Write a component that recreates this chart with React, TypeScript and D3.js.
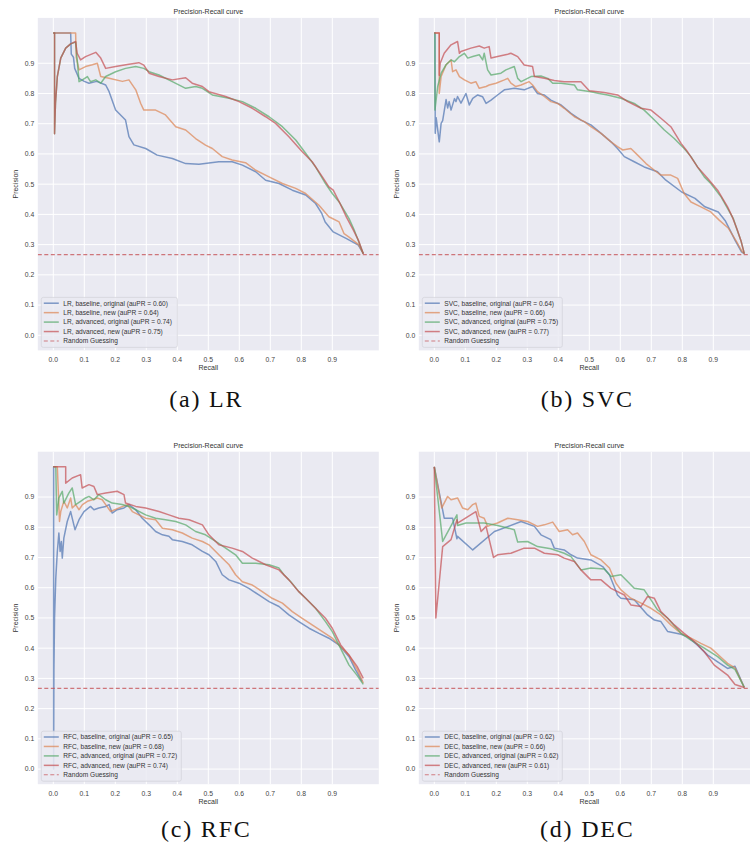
import React from 'react';
import * as d3 from 'd3';

type Pt = [number, number];

// ---- data (recall, precision) ----
const tickValues = [0, 0.1, 0.2, 0.3, 0.4, 0.5, 0.6, 0.7, 0.8, 0.9];
const chanceLevel = 0.267;
const variantNames = ['baseline, original', 'baseline, new', 'advanced, original', 'advanced, new'];
const seriesColours = ['#4C72B0', '#DD8452', '#55A868', '#C44E52'];

const lrAuPR = [0.6, 0.64, 0.74, 0.75];
const svcAuPR = [0.64, 0.66, 0.75, 0.77];
const rfcAuPR = [0.65, 0.68, 0.72, 0.74];
const decAuPR = [0.62, 0.66, 0.62, 0.61];

const lrBaseOrig: Pt[] = [[0, 1], [0.056, 1], [0.058, 0.93], [0.065, 0.92], [0.069, 0.883], [0.083, 0.85], [0.1, 0.84], [0.115, 0.834], [0.14, 0.84], [0.169, 0.828], [0.18, 0.806], [0.201, 0.745], [0.233, 0.712], [0.244, 0.657], [0.26, 0.63], [0.298, 0.618], [0.335, 0.596], [0.384, 0.585], [0.427, 0.568], [0.47, 0.566], [0.534, 0.574], [0.577, 0.574], [0.61, 0.563], [0.653, 0.541], [0.685, 0.513], [0.728, 0.502], [0.771, 0.48], [0.814, 0.464], [0.846, 0.436], [0.866, 0.403], [0.877, 0.375], [0.903, 0.342], [0.946, 0.32], [0.984, 0.298], [1, 0.27]];
const lrBaseNew: Pt[] = [[0, 1], [0.072, 1], [0.074, 0.92], [0.083, 0.878], [0.104, 0.889], [0.126, 0.895], [0.142, 0.9], [0.153, 0.856], [0.18, 0.85], [0.223, 0.84], [0.244, 0.845], [0.266, 0.812], [0.282, 0.767], [0.292, 0.745], [0.33, 0.745], [0.362, 0.729], [0.395, 0.69], [0.427, 0.679], [0.459, 0.651], [0.491, 0.629], [0.513, 0.618], [0.545, 0.591], [0.577, 0.58], [0.62, 0.571], [0.653, 0.546], [0.696, 0.524], [0.739, 0.502], [0.782, 0.486], [0.814, 0.469], [0.857, 0.43], [0.889, 0.392], [0.922, 0.375], [0.938, 0.336], [0.954, 0.325], [0.985, 0.3], [1, 0.27]];
const lrAdvOrig: Pt[] = [[0, 1], [0.004, 1], [0.004, 0.667], [0.007, 0.767], [0.013, 0.856], [0.024, 0.917], [0.04, 0.95], [0.056, 0.964], [0.072, 0.97], [0.078, 0.9], [0.083, 0.839], [0.094, 0.845], [0.11, 0.856], [0.12, 0.839], [0.137, 0.845], [0.153, 0.834], [0.169, 0.856], [0.201, 0.872], [0.233, 0.883], [0.266, 0.889], [0.292, 0.883], [0.309, 0.872], [0.341, 0.861], [0.384, 0.839], [0.427, 0.817], [0.459, 0.823], [0.481, 0.817], [0.513, 0.795], [0.567, 0.784], [0.61, 0.773], [0.653, 0.751], [0.696, 0.723], [0.739, 0.69], [0.782, 0.646], [0.814, 0.602], [0.846, 0.557], [0.878, 0.502], [0.9, 0.469], [0.922, 0.441], [0.954, 0.386], [0.97, 0.35], [0.985, 0.31], [1, 0.27]];
const lrAdvNew: Pt[] = [[0, 1], [0.004, 1], [0.004, 0.667], [0.007, 0.767], [0.013, 0.856], [0.024, 0.917], [0.04, 0.95], [0.056, 0.964], [0.072, 0.972], [0.077, 0.933], [0.088, 0.911], [0.104, 0.922], [0.137, 0.936], [0.153, 0.917], [0.169, 0.883], [0.201, 0.889], [0.244, 0.897], [0.276, 0.902], [0.292, 0.894], [0.309, 0.867], [0.341, 0.856], [0.384, 0.845], [0.427, 0.852], [0.448, 0.834], [0.481, 0.823], [0.502, 0.806], [0.556, 0.79], [0.599, 0.773], [0.642, 0.751], [0.685, 0.723], [0.717, 0.701], [0.76, 0.657], [0.803, 0.607], [0.835, 0.574], [0.868, 0.524], [0.889, 0.491], [0.903, 0.48], [0.925, 0.436], [0.946, 0.39], [0.968, 0.348], [0.984, 0.315], [1, 0.27]];

const svcBaseOrig: Pt[] = [[0, 1], [0.002, 1], [0.003, 0.668], [0.006, 0.72], [0.016, 0.64], [0.022, 0.701], [0.027, 0.71], [0.038, 0.78], [0.043, 0.752], [0.048, 0.773], [0.054, 0.745], [0.065, 0.783], [0.07, 0.773], [0.075, 0.79], [0.086, 0.768], [0.102, 0.8], [0.113, 0.762], [0.124, 0.784], [0.14, 0.795], [0.156, 0.789], [0.167, 0.767], [0.183, 0.778], [0.204, 0.795], [0.226, 0.812], [0.258, 0.817], [0.29, 0.812], [0.317, 0.823], [0.333, 0.8], [0.355, 0.795], [0.376, 0.778], [0.409, 0.762], [0.441, 0.734], [0.473, 0.712], [0.505, 0.696], [0.538, 0.668], [0.57, 0.64], [0.591, 0.618], [0.613, 0.591], [0.645, 0.574], [0.677, 0.557], [0.72, 0.541], [0.747, 0.513], [0.798, 0.474], [0.841, 0.453], [0.873, 0.425], [0.916, 0.408], [0.938, 0.38], [0.954, 0.348], [0.97, 0.315], [0.991, 0.276], [1, 0.27]];
const svcBaseNew: Pt[] = [[0, 1], [0.016, 1], [0.016, 0.8], [0.022, 0.856], [0.038, 0.895], [0.054, 0.911], [0.059, 0.872], [0.07, 0.878], [0.081, 0.856], [0.097, 0.845], [0.118, 0.834], [0.134, 0.839], [0.145, 0.817], [0.167, 0.823], [0.177, 0.828], [0.199, 0.834], [0.226, 0.845], [0.237, 0.85], [0.247, 0.834], [0.263, 0.823], [0.28, 0.828], [0.306, 0.839], [0.317, 0.828], [0.333, 0.806], [0.355, 0.79], [0.376, 0.773], [0.398, 0.767], [0.419, 0.751], [0.452, 0.723], [0.484, 0.707], [0.505, 0.69], [0.538, 0.668], [0.57, 0.64], [0.591, 0.624], [0.608, 0.613], [0.634, 0.618], [0.656, 0.596], [0.683, 0.568], [0.71, 0.546], [0.731, 0.53], [0.763, 0.53], [0.785, 0.519], [0.806, 0.469], [0.828, 0.441], [0.86, 0.425], [0.892, 0.408], [0.919, 0.381], [0.948, 0.355], [0.975, 0.31], [0.991, 0.28], [1, 0.27]];
const svcAdvOrig: Pt[] = [[0, 1], [0.002, 1], [0.002, 0.745], [0.011, 0.823], [0.022, 0.867], [0.038, 0.895], [0.054, 0.911], [0.065, 0.905], [0.081, 0.922], [0.097, 0.933], [0.108, 0.917], [0.124, 0.922], [0.145, 0.928], [0.156, 0.911], [0.161, 0.933], [0.172, 0.878], [0.183, 0.861], [0.215, 0.867], [0.231, 0.878], [0.258, 0.889], [0.269, 0.85], [0.28, 0.839], [0.312, 0.856], [0.344, 0.858], [0.366, 0.85], [0.382, 0.834], [0.409, 0.834], [0.452, 0.828], [0.462, 0.812], [0.505, 0.806], [0.532, 0.8], [0.559, 0.795], [0.602, 0.784], [0.645, 0.767], [0.677, 0.745], [0.71, 0.712], [0.742, 0.679], [0.774, 0.651], [0.806, 0.618], [0.828, 0.591], [0.849, 0.557], [0.871, 0.524], [0.892, 0.502], [0.925, 0.458], [0.946, 0.42], [0.965, 0.385], [0.978, 0.345], [0.99, 0.31], [1, 0.27]];
const svcAdvNew: Pt[] = [[0, 1], [0.016, 1], [0.016, 0.86], [0.019, 0.9], [0.032, 0.933], [0.054, 0.961], [0.075, 0.972], [0.081, 0.933], [0.086, 0.939], [0.118, 0.95], [0.145, 0.957], [0.161, 0.95], [0.177, 0.955], [0.183, 0.917], [0.204, 0.922], [0.237, 0.93], [0.247, 0.933], [0.269, 0.922], [0.29, 0.894], [0.317, 0.889], [0.323, 0.856], [0.355, 0.85], [0.387, 0.843], [0.419, 0.839], [0.473, 0.839], [0.5, 0.809], [0.548, 0.803], [0.591, 0.795], [0.624, 0.773], [0.667, 0.751], [0.699, 0.745], [0.731, 0.718], [0.763, 0.69], [0.796, 0.635], [0.817, 0.607], [0.849, 0.557], [0.882, 0.519], [0.914, 0.48], [0.946, 0.425], [0.962, 0.39], [0.977, 0.35], [0.99, 0.31], [1, 0.27]];

const rfcBaseOrig: Pt[] = [[0, 1], [0.001, 1], [0.001, 0.0], [0.002, 0.33], [0.004, 0.5], [0.008, 0.631], [0.013, 0.72], [0.018, 0.781], [0.022, 0.72], [0.026, 0.753], [0.029, 0.698], [0.034, 0.764], [0.045, 0.819], [0.056, 0.852], [0.061, 0.83], [0.07, 0.792], [0.083, 0.825], [0.099, 0.852], [0.12, 0.869], [0.131, 0.858], [0.147, 0.864], [0.169, 0.869], [0.18, 0.875], [0.19, 0.847], [0.206, 0.858], [0.228, 0.864], [0.244, 0.875], [0.266, 0.858], [0.287, 0.83], [0.309, 0.808], [0.33, 0.786], [0.352, 0.775], [0.373, 0.77], [0.384, 0.759], [0.416, 0.753], [0.448, 0.742], [0.481, 0.72], [0.502, 0.709], [0.524, 0.687], [0.545, 0.643], [0.567, 0.626], [0.599, 0.615], [0.631, 0.598], [0.663, 0.576], [0.696, 0.554], [0.728, 0.538], [0.76, 0.51], [0.792, 0.488], [0.825, 0.466], [0.857, 0.449], [0.889, 0.433], [0.921, 0.411], [0.954, 0.372], [0.975, 0.328], [0.996, 0.29]];
const rfcBaseNew: Pt[] = [[0, 1], [0.013, 1], [0.02, 0.819], [0.024, 0.852], [0.034, 0.886], [0.045, 0.864], [0.056, 0.897], [0.061, 0.864], [0.072, 0.875], [0.083, 0.858], [0.094, 0.875], [0.11, 0.886], [0.126, 0.891], [0.142, 0.897], [0.158, 0.891], [0.169, 0.875], [0.185, 0.852], [0.212, 0.864], [0.239, 0.875], [0.255, 0.852], [0.276, 0.841], [0.298, 0.83], [0.33, 0.825], [0.352, 0.797], [0.384, 0.792], [0.416, 0.781], [0.448, 0.764], [0.481, 0.753], [0.502, 0.742], [0.534, 0.709], [0.567, 0.676], [0.588, 0.643], [0.61, 0.62], [0.642, 0.609], [0.674, 0.587], [0.706, 0.565], [0.739, 0.549], [0.771, 0.521], [0.803, 0.499], [0.835, 0.477], [0.868, 0.455], [0.9, 0.433], [0.932, 0.4], [0.954, 0.377], [0.98, 0.33], [1, 0.285]];
const rfcAdvOrig: Pt[] = [[0, 1], [0.008, 1], [0.011, 0.841], [0.018, 0.897], [0.029, 0.919], [0.034, 0.88], [0.05, 0.913], [0.061, 0.93], [0.072, 0.875], [0.088, 0.886], [0.104, 0.897], [0.115, 0.902], [0.131, 0.891], [0.147, 0.908], [0.169, 0.891], [0.19, 0.88], [0.222, 0.875], [0.244, 0.869], [0.266, 0.858], [0.298, 0.841], [0.33, 0.83], [0.362, 0.825], [0.395, 0.819], [0.427, 0.808], [0.459, 0.786], [0.491, 0.775], [0.524, 0.753], [0.556, 0.731], [0.588, 0.709], [0.61, 0.681], [0.653, 0.681], [0.696, 0.676], [0.728, 0.665], [0.744, 0.643], [0.766, 0.62], [0.792, 0.587], [0.814, 0.565], [0.846, 0.532], [0.878, 0.488], [0.9, 0.455], [0.921, 0.411], [0.954, 0.344], [0.98, 0.31], [1, 0.28]];
const rfcAdvNew: Pt[] = [[0, 1], [0.04, 1], [0.04, 0.946], [0.061, 0.963], [0.088, 0.974], [0.093, 0.93], [0.115, 0.941], [0.131, 0.935], [0.142, 0.908], [0.169, 0.913], [0.206, 0.919], [0.228, 0.908], [0.233, 0.88], [0.266, 0.869], [0.298, 0.864], [0.341, 0.852], [0.373, 0.841], [0.405, 0.83], [0.438, 0.825], [0.481, 0.808], [0.502, 0.775], [0.534, 0.742], [0.577, 0.731], [0.61, 0.72], [0.642, 0.698], [0.685, 0.676], [0.728, 0.659], [0.76, 0.626], [0.792, 0.587], [0.814, 0.565], [0.846, 0.532], [0.878, 0.499], [0.9, 0.466], [0.927, 0.411], [0.954, 0.377], [0.98, 0.34], [1, 0.3]];

const decBaseOrig: Pt[] = [[0, 1], [0.032, 0.83], [0.059, 0.83], [0.073, 0.762], [0.075, 0.77], [0.124, 0.725], [0.194, 0.786], [0.28, 0.819], [0.323, 0.803], [0.344, 0.775], [0.376, 0.759], [0.387, 0.731], [0.419, 0.725], [0.441, 0.709], [0.462, 0.698], [0.505, 0.692], [0.543, 0.67], [0.565, 0.643], [0.591, 0.576], [0.602, 0.565], [0.645, 0.56], [0.688, 0.51], [0.71, 0.493], [0.731, 0.488], [0.753, 0.455], [0.796, 0.446], [0.817, 0.438], [0.849, 0.41], [0.882, 0.377], [0.914, 0.355], [0.946, 0.333], [0.97, 0.34], [1, 0.27]];
const decBaseNew: Pt[] = [[0, 1], [0.024, 0.864], [0.043, 0.902], [0.054, 0.891], [0.075, 0.897], [0.091, 0.864], [0.108, 0.858], [0.124, 0.875], [0.134, 0.88], [0.145, 0.836], [0.161, 0.83], [0.172, 0.803], [0.183, 0.808], [0.204, 0.814], [0.237, 0.83], [0.269, 0.825], [0.301, 0.819], [0.333, 0.803], [0.355, 0.808], [0.382, 0.817], [0.403, 0.786], [0.43, 0.792], [0.446, 0.775], [0.462, 0.781], [0.484, 0.753], [0.505, 0.709], [0.538, 0.692], [0.565, 0.665], [0.586, 0.615], [0.602, 0.593], [0.634, 0.565], [0.667, 0.549], [0.699, 0.532], [0.731, 0.51], [0.763, 0.477], [0.796, 0.449], [0.828, 0.433], [0.86, 0.416], [0.892, 0.4], [0.946, 0.35], [0.97, 0.335], [1, 0.27]];
const decAdvOrig: Pt[] = [[0, 1], [0.027, 0.753], [0.073, 0.841], [0.075, 0.806], [0.102, 0.814], [0.161, 0.814], [0.204, 0.806], [0.258, 0.792], [0.269, 0.751], [0.301, 0.753], [0.333, 0.736], [0.376, 0.729], [0.419, 0.714], [0.441, 0.703], [0.473, 0.659], [0.505, 0.665], [0.548, 0.662], [0.57, 0.637], [0.602, 0.643], [0.645, 0.598], [0.677, 0.593], [0.699, 0.56], [0.72, 0.527], [0.753, 0.499], [0.796, 0.449], [0.828, 0.427], [0.871, 0.4], [0.914, 0.372], [0.946, 0.344], [0.97, 0.33], [1, 0.27]];
const decAdvNew: Pt[] = [[0, 1], [0.005, 0.5], [0.027, 0.736], [0.054, 0.759], [0.073, 0.825], [0.075, 0.814], [0.134, 0.852], [0.151, 0.786], [0.167, 0.803], [0.191, 0.7], [0.204, 0.709], [0.247, 0.714], [0.29, 0.731], [0.323, 0.731], [0.355, 0.714], [0.398, 0.709], [0.419, 0.698], [0.452, 0.687], [0.473, 0.659], [0.505, 0.626], [0.538, 0.626], [0.57, 0.598], [0.613, 0.576], [0.634, 0.543], [0.667, 0.538], [0.688, 0.571], [0.71, 0.565], [0.731, 0.521], [0.753, 0.499], [0.774, 0.477], [0.806, 0.449], [0.839, 0.422], [0.871, 0.388], [0.903, 0.344], [0.946, 0.311], [0.97, 0.28], [1, 0.27]];

// ---- layout ----
const AX_W = 341;
const AX_H = 332.5;
const SANS = '"Liberation Sans", Arial, sans-serif';

const panels = [
  { id: 'a', name: 'LR', caption: '(a) LR', left: 37.8, top: 17.9, auPR: lrAuPR, series: [lrBaseOrig, lrBaseNew, lrAdvOrig, lrAdvNew], legendW: 136, capY: 407 },
  { id: 'b', name: 'SVC', caption: '(b) SVC', left: 418.8, top: 17.9, auPR: svcAuPR, series: [svcBaseOrig, svcBaseNew, svcAdvOrig, svcAdvNew], legendW: 140, capY: 407 },
  { id: 'c', name: 'RFC', caption: '(c) RFC', left: 37.8, top: 451.7, auPR: rfcAuPR, series: [rfcBaseOrig, rfcBaseNew, rfcAdvOrig, rfcAdvNew], legendW: 140, capY: 837 },
  { id: 'd', name: 'DEC', caption: '(d) DEC', left: 418.8, top: 451.7, auPR: decAuPR, series: [decBaseOrig, decBaseNew, decAdvOrig, decAdvNew], legendW: 140, capY: 837 },
];

type PanelDef = typeof panels[number];

const Panel: React.FC<{ p: PanelDef }> = ({ p }) => {
  const x = d3.scaleLinear().domain([-0.05, 1.05]).range([p.left, p.left + AX_W]);
  const y = d3.scaleLinear().domain([-0.05, 1.05]).range([p.top + AX_H, p.top]);
  const line = d3.line<Pt>().x(d => x(d[0])).y(d => y(d[1]));
  const right = Math.min(p.left + AX_W, 750);
  const bottom = p.top + AX_H;
  const midX = (p.left + p.left + AX_W) / 2;

  const legendLabels = [
    ...variantNames.map((v, i) => `${p.name}, ${v} (auPR = ${p.auPR[i].toFixed(2)})`),
    'Random Guessing',
  ];
  const lgH = 50;
  const lgX = p.left + 3.5;
  const lgY = bottom - 3 - lgH;

  return (
    <g>
      <defs>
        <clipPath id={`clip-${p.id}`}>
          <rect x={p.left} y={p.top} width={right - p.left} height={AX_H} />
        </clipPath>
      </defs>
      <rect x={p.left} y={p.top} width={right - p.left} height={AX_H} fill="#EAEAF2" />
      <g clipPath={`url(#clip-${p.id})`}>
        {tickValues.map(t => (
          <line key={`gx${t}`} x1={x(t)} x2={x(t)} y1={p.top} y2={bottom} stroke="#fff" strokeWidth={1} />
        ))}
        {tickValues.map(t => (
          <line key={`gy${t}`} x1={p.left} x2={right} y1={y(t)} y2={y(t)} stroke="#fff" strokeWidth={1} />
        ))}
        {p.series.map((s, i) => (
          <path key={i} d={line(s) ?? ''} fill="none" stroke={seriesColours[i]} strokeOpacity={0.7}
            strokeWidth={1.5} strokeLinejoin="round" />
        ))}
        <line x1={p.left} x2={p.left + AX_W} y1={y(chanceLevel)} y2={y(chanceLevel)}
          stroke="#C44E52" strokeOpacity={0.75} strokeWidth={1.1} strokeDasharray="4,2.5" />
      </g>

      {/* title and axis labels */}
      <text x={midX} y={p.top - 4} textAnchor="middle" fontFamily={SANS} fontSize={7} fill="#333">
        Precision-Recall curve
      </text>
      {tickValues.map(t => (
        <text key={`tx${t}`} x={x(t)} y={bottom + 11.5} textAnchor="middle" fontFamily={SANS} fontSize={6.8} fill="#444">
          {t.toFixed(1)}
        </text>
      ))}
      {tickValues.map(t => (
        <text key={`ty${t}`} x={p.left - 3.5} y={y(t) + 2.4} textAnchor="end" fontFamily={SANS} fontSize={6.8} fill="#444">
          {t.toFixed(1)}
        </text>
      ))}
      <text x={midX} y={bottom + 20} textAnchor="middle" fontFamily={SANS} fontSize={7} fill="#333">Recall</text>
      <text transform={`translate(${p.left - 20},${p.top + AX_H / 2}) rotate(-90)`} textAnchor="middle"
        fontFamily={SANS} fontSize={7} fill="#333">Precision</text>

      {/* legend */}
      <rect x={lgX} y={lgY} width={p.legendW} height={lgH} rx={2} fill="#EAEAF2" fillOpacity={0.85}
        stroke="#d4d4dc" strokeWidth={0.8} />
      {legendLabels.map((lab, i) => {
        const cy = lgY + 5.8 + i * 9.45;
        const isChance = i === 4;
        return (
          <g key={lab}>
            <line x1={lgX + 2.5} x2={lgX + 17.5} y1={cy} y2={cy}
              stroke={isChance ? '#C44E52' : seriesColours[i]} strokeOpacity={0.7}
              strokeWidth={isChance ? 1.1 : 1.5} strokeDasharray={isChance ? '4,2.5' : undefined} />
            <text x={lgX + 22} y={cy + 2.3} fontFamily={SANS} fontSize={6.6} fill="#333">{lab}</text>
          </g>
        );
      })}

      {/* caption */}
      <text x={midX - 2} y={p.capY} textAnchor="middle" fontFamily='"Liberation Serif", "Times New Roman", serif'
        fontSize={24} letterSpacing={1.8} fill="#111">
        {p.caption}
      </text>
    </g>
  );
};

const App: React.FC = () => (
  <svg width={750} height={844} viewBox="0 0 750 844"
    style={{ position: 'absolute', left: 0, top: 0, background: '#fff' }}>
    <rect width={750} height={844} fill="#fff" />
    {panels.map(p => <Panel key={p.id} p={p} />)}
  </svg>
);

export default App;
